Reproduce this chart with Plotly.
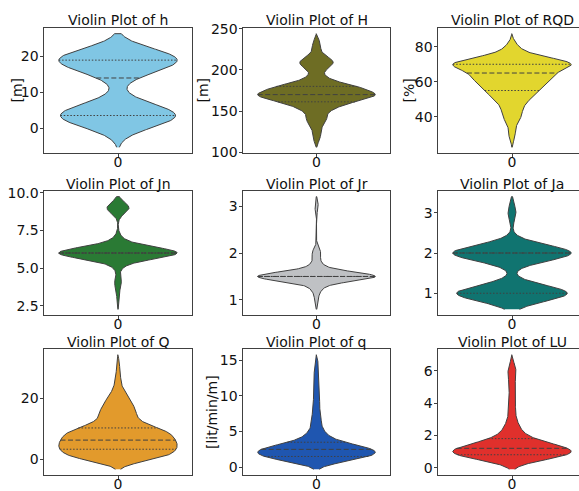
import numpy as np
import plotly.graph_objects as go

FIG_W, FIG_H = 579, 491

# ---------------------------------------------------------------------------
# Observed values of each parameter and how often each value occurs
# ---------------------------------------------------------------------------
h_values = [0, 1, 2, 3, 4, 5, 6, 7, 8, 14, 15, 16, 17, 18, 19, 20, 21]
h_counts = [2, 3, 4, 8, 6, 5, 3, 1, 1, 1, 1, 3, 4, 5, 6, 7, 7]

H_values = [115, 120, 125, 130, 135, 140, 145, 150, 155, 160, 165, 170, 175,
            180, 185, 190, 195, 200, 205, 210, 215, 220, 225, 230, 235]
H_counts = [1, 1, 1, 1, 2, 3, 2, 3, 5, 8, 12, 18, 11,
            12, 4, 3, 1, 2, 4, 5, 3, 1, 1, 1, 1]

RQD_values = [27.5, 30, 32.5, 35, 37.5, 40, 42.5, 45, 47.5, 50, 52.5, 55,
              57.5, 60, 62.5, 65, 67.5, 70, 72.5, 75, 77.5, 80, 82.5]
RQD_counts = [1, 1, 1, 1, 2, 3, 3, 3, 4, 5, 7, 8,
              9, 11, 12, 12, 15, 22, 16, 6, 3, 2, 1]

Jn_values = [3, 4, 5, 5.5, 6, 6.5, 7, 9]
Jn_counts = [2, 6, 3, 8, 100, 10, 3, 20]

Jr_values = [1.0, 1.25, 1.5, 1.75, 2.0, 3.0]
Jr_counts = [3, 8, 100, 8, 7, 3]

Ja_values = [1, 2, 3]
Ja_counts = [70, 75, 5]

Q_values = [0.1, 0.3, 1.3, 2.3, 3.3, 4.3, 5.3, 6.3, 7.3, 8.3, 9.3, 10.3, 11.3,
            12.3, 13.3, 14.3, 15.3, 16.3, 17.3, 18.3, 19.3, 20.3, 21.3, 22.3,
            23.3, 25.3, 27.3, 31.0]
Q_counts = [6, 7, 8, 9, 10, 10, 10, 9, 9, 9, 9, 7, 4,
            3, 3, 3, 3, 3, 3, 2, 2, 2, 1, 1,
            1, 1, 1, 1]

q_values = [1.0, 1.5, 2.0, 2.5, 3.0, 3.5, 4.0, 4.5, 5.0, 5.5, 6.0, 6.5, 7.0,
            7.5, 8.0, 9.0, 9.5, 10.5, 11.5, 12.5, 13.5, 14.5]
q_counts = [12, 11, 15, 15, 9, 5, 3, 2, 2, 1, 1, 1, 1,
            1, 1, 1, 1, 1, 1, 1, 1, 1]

LU_values = [0.6, 0.8, 1.0, 1.2, 1.4, 1.6, 1.8, 2.0, 2.2, 2.5, 2.8, 3.1, 3.5,
             3.9, 4.3, 4.8, 5.3, 5.7, 6.0, 6.3]
LU_counts = [10, 9, 12, 10, 6, 4, 3, 1, 2, 2, 1, 1, 1,
             1, 1, 1, 1, 1, 1, 1]

# tick positions on each value axis
h_ticks = [0, 10, 20]
H_ticks = [100, 150, 200, 250]
RQD_ticks = [40, 60, 80]
Jn_ticks = [2.5, 5.0, 7.5, 10.0]
Jr_ticks = [1, 2, 3]
Ja_ticks = [1, 2, 3]
Q_ticks = [0, 20]
q_ticks = [0, 5, 10, 15]
LU_ticks = [0, 2, 4, 6]

panels = [
    dict(name="h", values=h_values, counts=h_counts, ticks=h_ticks, unit="[m]"),
    dict(name="H", values=H_values, counts=H_counts, ticks=H_ticks, unit="[m]"),
    dict(name="RQD", values=RQD_values, counts=RQD_counts, ticks=RQD_ticks, unit="[%]"),
    dict(name="Jn", values=Jn_values, counts=Jn_counts, ticks=Jn_ticks, unit=""),
    dict(name="Jr", values=Jr_values, counts=Jr_counts, ticks=Jr_ticks, unit=""),
    dict(name="Ja", values=Ja_values, counts=Ja_counts, ticks=Ja_ticks, unit=""),
    dict(name="Q", values=Q_values, counts=Q_counts, ticks=Q_ticks, unit=""),
    dict(name="q", values=q_values, counts=q_counts, ticks=q_ticks, unit="[lit/min/m]"),
    dict(name="LU", values=LU_values, counts=LU_counts, ticks=LU_ticks, unit=""),
]

# KDE bandwidth, fill colour, tick format and unit-label offset (px left of the axis)
style = {
    "h":   dict(bw=2.7,   color="#80c6e4", fmt="{:g}",   unit_dx=27),
    "H":   dict(bw=4.5,   color="#6e6d24", fmt="{:g}",   unit_dx=40),
    "RQD": dict(bw=2.5,   color="#e2d62e", fmt="{:g}",   unit_dx=29),
    "Jn":  dict(bw=0.375, color="#2a7a34", fmt="{:.1f}", unit_dx=0),
    "Jr":  dict(bw=0.1,   color="#bfc1c4", fmt="{:g}",   unit_dx=0),
    "Ja":  dict(bw=0.2,   color="#107470", fmt="{:g}",   unit_dx=0),
    "Q":   dict(bw=1.7,   color="#e29a2c", fmt="{:g}",   unit_dx=0),
    "q":   dict(bw=0.65,  color="#1f56b0", fmt="{:g}",   unit_dx=31),
    "LU":  dict(bw=0.35,  color="#e0302c", fmt="{:g}",   unit_dx=0),
}

# plot-area boxes in pixels (left, right) / (top, bottom)
COLS = [(44, 192), (243, 390), (438, 586)]
ROWS = [(28, 153), (191, 315), (349, 475)]

EDGE = "#404040"
TEXT = "#111111"
FONT = "DejaVu Sans"
VIOLIN_WIDTH = 0.8
GRID_POINTS = 300


def kde(points, samples, bw):
    """Gaussian kernel density (unnormalised) of samples at the given points."""
    points = np.atleast_1d(np.asarray(points, float))
    z = (points[:, None] - samples[None, :]) / bw
    return np.exp(-0.5 * z * z).sum(axis=1)


fig = go.Figure()
annotations = []

for i, p in enumerate(panels):
    st = style[p["name"]]
    r, c = divmod(i, 3)
    suffix = "" if i == 0 else str(i + 1)
    xa, ya = "x" + suffix, "y" + suffix

    x0, x1 = COLS[c]
    y0, y1 = ROWS[r]
    vis_x1 = min(x1, FIG_W)
    x_range = [-0.5, -0.5 + (vis_x1 - x0) / (x1 - x0)]

    samples = np.repeat(np.asarray(p["values"], float), p["counts"])
    bw = st["bw"]
    # density is evaluated from two bandwidths below the minimum to two above the maximum
    lo, hi = samples.min() - 2 * bw, samples.max() + 2 * bw
    pad = 0.05 * (hi - lo)

    grid = np.linspace(lo, hi, GRID_POINTS)
    dens = kde(grid, samples, bw)
    dmax = dens.max()
    half = VIOLIN_WIDTH / 2 * dens / dmax

    # violin body: right half going up, left half coming back down
    fig.add_trace(go.Scatter(
        x=np.concatenate([half, -half[::-1]]),
        y=np.concatenate([grid, grid[::-1]]),
        mode="lines", fill="toself", fillcolor=st["color"],
        line=dict(color=EDGE, width=1),
        xaxis=xa, yaxis=ya, hoverinfo="skip", showlegend=False,
    ))

    # quartile lines spanning the violin at each quartile
    quarts = np.percentile(samples, [25, 50, 75])
    for qv, dash in zip(quarts, ["1.5px,1.8px", "5px,2.5px", "1.5px,1.8px"]):
        hw = VIOLIN_WIDTH / 2 * kde(qv, samples, bw)[0] / dmax
        fig.add_trace(go.Scatter(
            x=[-hw, hw], y=[qv, qv], mode="lines",
            line=dict(color=EDGE, width=1, dash=dash),
            xaxis=xa, yaxis=ya, hoverinfo="skip", showlegend=False,
        ))

    axis_common = dict(
        showline=True, linecolor=EDGE, linewidth=1,
        ticks="outside", ticklen=3.5, tickwidth=1, tickcolor=EDGE,
        showgrid=False, zeroline=False, automargin=False,
        tickfont=dict(family=FONT, size=14, color=TEXT),
    )
    fig.update_layout({
        "xaxis" + suffix: dict(
            axis_common, domain=[x0 / FIG_W, vis_x1 / FIG_W], range=x_range,
            type="linear", anchor=ya, mirror=True,
            tickvals=[0], ticktext=["0"], ticklabelstandoff=-7,
        ),
        "yaxis" + suffix: dict(
            axis_common, domain=[1 - y1 / FIG_H, 1 - y0 / FIG_H],
            range=[lo - pad, hi + pad], anchor=xa, mirror=(c < 2),
            tickvals=p["ticks"], ticktext=[st["fmt"].format(t) for t in p["ticks"]],
            ticklabelstandoff=-2,
        ),
    })

    # panel title
    annotations.append(dict(
        text="Violin Plot of " + p["name"], showarrow=False,
        xref="paper", yref="paper",
        x=(x0 + x1) / 2 / FIG_W, y=1 - (y0 - 7.5) / FIG_H,
        xanchor="center", yanchor="middle",
        font=dict(family=FONT, size=14, color=TEXT),
    ))

    # unit label along the value axis
    if p["unit"]:
        annotations.append(dict(
            text=p["unit"], showarrow=False, textangle=-90,
            xref="paper", yref="paper",
            x=(x0 - st["unit_dx"]) / FIG_W, y=1 - (y0 + y1) / 2 / FIG_H,
            xanchor="center", yanchor="middle",
            font=dict(family=FONT, size=14, color=TEXT),
        ))

fig.update_layout(
    template="none",
    width=FIG_W, height=FIG_H,
    margin=dict(l=0, r=0, t=0, b=0),
    paper_bgcolor="white", plot_bgcolor="white",
    font=dict(family=FONT, size=14, color=TEXT),
    showlegend=False,
    annotations=annotations,
)

fig.write_html("out.html")
